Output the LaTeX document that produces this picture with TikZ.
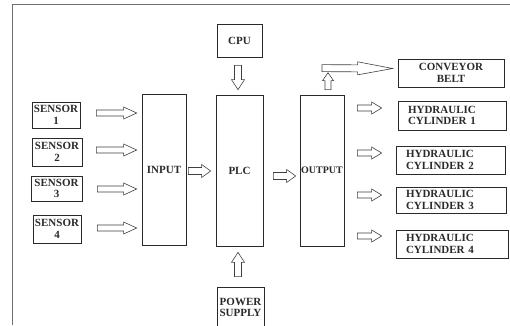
\documentclass[tikz,border=0pt]{standalone}
\usepackage{fontspec}
\setmainfont{Liberation Serif}
\usetikzlibrary{calc}
\definecolor{ink}{HTML}{2A2A2A}
\definecolor{frame}{HTML}{6E6E6E}
\tikzset{
  box/.style={draw=ink, line width=0.7pt, inner sep=0pt, align=center,
    font=\fontsize{11}{11.5}\selectfont\bfseries, text=ink},
  hbox/.style={box, align=left, inner xsep=10pt},
  blk/.style={draw=ink!90, line width=0.6pt, line join=miter},
  frameline/.style={draw=frame, line width=0.9pt}
}
% hollow block arrow: from, to, shaft half-width, head half-width, head length (pt numbers)
\newcommand\barrow[5]{%
  \draw[blk] let \p1=#1, \p2=#2,
    \n1={veclen(\x2-\x1,\y2-\y1)}, \n2={(\x2-\x1)/\n1}, \n3={(\y2-\y1)/\n1} in
    ({\x1-(\n3)*#3pt},{\y1+(\n2)*#3pt})
    -- ({\x2-(\n2)*#5pt-(\n3)*#3pt},{\y2-(\n3)*#5pt+(\n2)*#3pt})
    -- ({\x2-(\n2)*#5pt-(\n3)*#4pt},{\y2-(\n3)*#5pt+(\n2)*#4pt})
    -- (\p2)
    -- ({\x2-(\n2)*#5pt+(\n3)*#4pt},{\y2-(\n3)*#5pt-(\n2)*#4pt})
    -- ({\x2-(\n2)*#5pt+(\n3)*#3pt},{\y2-(\n3)*#5pt-(\n2)*#3pt})
    -- ({\x1+(\n3)*#3pt},{\y1-(\n2)*#3pt}) -- cycle;}
\begin{document}
\begin{tikzpicture}[x=1pt,y=-1pt]
\useasboundingbox (0,0) rectangle (510,325);
% frame
\coordinate (fTL) at (12,4);
\coordinate (fTR) at (510,4);
\coordinate (fBL) at (12,325);
\draw[frameline] (fTR) -- (fTL) -- (fBL);

% sensors
\node[box, minimum width=48pt, minimum height=26pt] (s1) at (56,115) {SENSOR\\1};
\node[box, minimum width=50pt, minimum height=28pt] (s2) at (57,152) {SENSOR\\2};
\node[box, minimum width=51pt, minimum height=25pt] (s3) at (56.5,188.5) {SENSOR\\3};
\node[box, minimum width=48pt, minimum height=28pt] (s4) at (57,229) {SENSOR\\4};

% main blocks
\node[box, minimum width=44pt, minimum height=151pt] (in) at (164,169.5) {INPUT};
\node[box, minimum width=47pt, minimum height=151pt] (plc) at (239.5,170.5) {PLC};
\node[box, minimum width=44pt, minimum height=151pt, font=\fontsize{10}{11}\selectfont\bfseries] (out) at (322,170.5) {OUTPUT};
\node[box, minimum width=45pt, minimum height=33pt] (cpu) at (239.5,40.5) {CPU};
\node[box, minimum width=47pt, minimum height=41pt] (pow) at (240.5,307.5) {POWER\\SUPPLY};

% actuators
\node[box, minimum width=106pt, minimum height=28pt] (conv) at (451,73) {CONVEYOR\\BELT};
\node[hbox, text width=88pt, minimum height=29pt] (hc1) at (452,115.5) {HYDRAULIC\\CYLINDER 1};
\node[hbox, text width=89pt, minimum height=28pt] (hc2) at (450.5,160) {HYDRAULIC\\CYLINDER 2};
\node[hbox, text width=90pt, minimum height=26pt] (hc3) at (451,200) {HYDRAULIC\\CYLINDER 3};
\node[hbox, text width=92pt, minimum height=28pt] (hc4) at (452,244) {HYDRAULIC\\CYLINDER 4};

% sensor -> input
\barrow{($(s1.east)+(16,-2)$)}{($(in.west|-s1.east)+(-5,-2)$)}{3}{6}{13}
\barrow{($(s2.east)+(14,-2)$)}{($(in.west|-s2.east)+(-5,-2)$)}{3}{6}{13}
\barrow{($(s3.east)+(15,0.5)$)}{($(in.west|-s3.east)+(-5,0.5)$)}{3}{6}{13}
\barrow{($(s4.east)+(16,-1)$)}{($(in.west|-s4.east)+(-5,-1)$)}{3}{6}{13}

% input -> plc -> output
\barrow{($(in.east)+(2,1.5)$)}{($(plc.west)+(-5,0.5)$)}{3.5}{6.5}{9}
\barrow{($(plc.east)+(10,5.5)$)}{($(out.west)+(-4,5.5)$)}{3.5}{6.5}{9}

% cpu -> plc, power -> plc
\barrow{($(cpu.south)+(-1.5,8)$)}{($(plc.north)+(-1.5,-5)$)}{3.5}{6.5}{10}
\barrow{($(pow.north)+(-2.5,-10)$)}{($(plc.south)+(-1.5,6)$)}{3.5}{6.5}{10}

% output -> conveyor belt
\barrow{($(out.north)+(6,-5)$)}{($(out.north)+(6,-22)$)}{3}{5.5}{8}
\barrow{($(out.north)+(0,-26.5)$)}{($(conv.west)+(-5,-4.5)$)}{3.5}{6.5}{35}

% output -> hydraulic cylinders
\barrow{($(out.east|-hc1.west)+(13,-7.5)$)}{($(hc1.west)+(-16,-7.5)$)}{3}{6}{10}
\barrow{($(out.east|-hc2.west)+(13,-7)$)}{($(hc2.west)+(-14,-7)$)}{3}{6}{10}
\barrow{($(out.east|-hc3.west)+(13,-5)$)}{($(hc3.west)+(-14,-5)$)}{3}{6}{10}
\barrow{($(out.east|-hc4.west)+(13,-8)$)}{($(hc4.west)+(-14,-8)$)}{3}{6}{10}
\end{tikzpicture}
\end{document}
